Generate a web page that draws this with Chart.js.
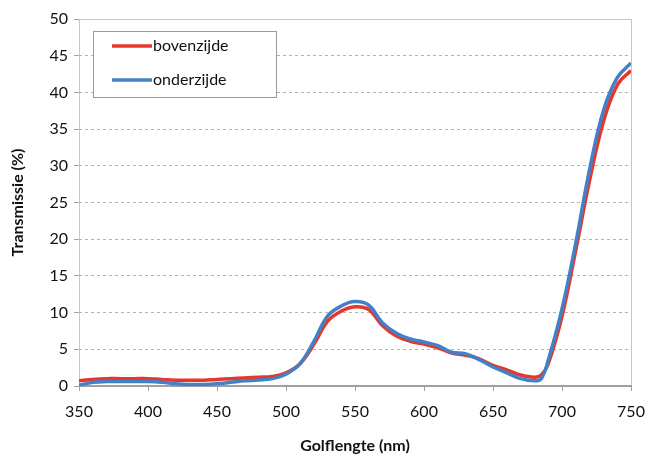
<!DOCTYPE html>
<html>
<head>
<meta charset="utf-8">
<script src="https://cdn.jsdelivr.net/npm/chart.js@4.4.0/dist/chart.umd.min.js"></script>
<style>
  html, body { margin: 0; padding: 0; background: #fff; }
  #wrap { width: 650px; height: 466px; }
</style>
</head>
<body>
<div id="wrap"><canvas id="transChart" width="650" height="466"></canvas></div>
<script>
// golflengte (nm) and transmissie (%)
const wavelengths = [350, 360, 370, 380, 390, 400, 410, 420, 430, 440, 450, 460, 470, 480, 490, 500, 510, 520, 530, 540, 550, 560, 570, 580, 590, 600, 610, 620, 630, 640, 650, 660, 670, 680, 685, 690, 700, 710, 720, 730, 740, 750];
const bovenzijde = [0.7, 0.9, 1.0, 1.0, 1.0, 1.0, 0.9, 0.8, 0.8, 0.8, 0.9, 1.0, 1.1, 1.2, 1.3, 1.8, 3.0, 5.6, 8.8, 10.2, 10.8, 10.4, 8.2, 6.8, 6.1, 5.7, 5.2, 4.5, 4.2, 3.7, 2.8, 2.2, 1.5, 1.2, 1.5, 3.0, 9.5, 18.5, 28.0, 36.0, 41.0, 43.0];
const onderzijde = [0.1, 0.5, 0.6, 0.6, 0.6, 0.6, 0.5, 0.3, 0.2, 0.2, 0.3, 0.5, 0.7, 0.8, 1.0, 1.6, 3.0, 6.0, 9.5, 10.9, 11.5, 11.0, 8.6, 7.2, 6.4, 6.0, 5.5, 4.6, 4.4, 3.6, 2.6, 1.8, 1.0, 0.7, 1.0, 3.5, 10.5, 19.5, 29.5, 37.5, 42.0, 44.0];
const xTicks = [350, 400, 450, 500, 550, 600, 650, 700, 750];
const yTicks = [0, 5, 10, 15, 20, 25, 30, 35, 40, 45, 50];

const fontFamily = 'Lato, "Open Sans", sans-serif';

// legend in a framed box inside the plot, Excel style
const boxLegend = {
    id: 'boxLegend',
    afterDraw(chart) {
        const ctx = chart.ctx;
        const a = chart.chartArea;
        const x0 = a.left + 14, y0 = a.top + 12, w = 183, h = 66;
        ctx.save();
        ctx.fillStyle = '#fff';
        ctx.strokeStyle = '#9a9a9a';
        ctx.lineWidth = 1;
        ctx.fillRect(x0, y0, w, h);
        ctx.strokeRect(x0 + 0.5, y0 + 0.5, w, h);
        ctx.font = '16px ' + fontFamily;
        ctx.textBaseline = 'middle';
        const rows = [chart.data.datasets[0], chart.data.datasets[1]];
        rows.forEach((ds, i) => {
            const yy = y0 + 15 + i * 34;
            ctx.strokeStyle = ds.borderColor;
            ctx.lineWidth = 3.5;
            ctx.beginPath();
            ctx.moveTo(x0 + 19, yy);
            ctx.lineTo(x0 + 59, yy);
            ctx.stroke();
            ctx.fillStyle = '#111';
            ctx.fillText(ds.label, x0 + 60, yy);
        });
        ctx.restore();
    }
};

// plot frame and bottom axis line
const frame = {
    id: 'frame',
    beforeDatasetsDraw(chart) {
        const ctx = chart.ctx;
        const a = chart.chartArea;
        ctx.save();
        ctx.strokeStyle = '#c8c8c8';
        ctx.lineWidth = 1;
        ctx.strokeRect(a.left + 0.5, a.top + 0.5, a.right - a.left, a.bottom - a.top);
        ctx.strokeStyle = '#a0a0a0';
        ctx.lineWidth = 2;
        ctx.beginPath();
        ctx.moveTo(a.left, a.bottom);
        ctx.lineTo(a.right + 1, a.bottom);
        ctx.stroke();
        ctx.restore();
    }
};

new Chart(document.getElementById('transChart'), {
    type: 'line',
    data: {
        datasets: [
            {
                label: 'bovenzijde',
                data: wavelengths.map((w, i) => ({ x: w, y: bovenzijde[i] })),
                borderColor: '#e5372c',
                borderWidth: 3.5,
                pointRadius: 0,
                tension: 0.4,
                fill: false,
                order: 1
            },
            {
                label: 'onderzijde',
                data: wavelengths.map((w, i) => ({ x: w, y: onderzijde[i] })),
                borderColor: '#4281c6',
                borderWidth: 3.5,
                pointRadius: 0,
                tension: 0.4,
                fill: false,
                order: 0
            }
        ]
    },
    options: {
        responsive: false,
        animation: false,
        layout: { padding: { top: 19, right: 19, left: 0, bottom: 0 } },
        plugins: {
            legend: { display: false },
            tooltip: { enabled: false }
        },
        scales: {
            x: {
                type: 'linear',
                min: 350,
                max: 750,
                afterBuildTicks: axis => { axis.ticks = xTicks.map(v => ({ value: v })); },
                afterFit: axis => { axis.height = 80; axis.paddingLeft = 0; axis.paddingRight = 0; },
                ticks: { color: '#111', font: { family: fontFamily, size: 16 }, padding: 11, maxRotation: 0 },
                grid: { drawOnChartArea: false, drawTicks: true, tickLength: 5, color: '#a0a0a0' },
                border: { display: false },
                title: { display: true, text: 'Golflengte (nm)', color: '#111', font: { family: fontFamily, size: 16, weight: 'bold' }, padding: { top: 4, bottom: 11 } }
            },
            y: {
                min: 0,
                max: 50,
                afterBuildTicks: axis => { axis.ticks = yTicks.map(v => ({ value: v })); },
                afterFit: axis => { axis.width = 79; axis.paddingTop = 0; axis.paddingBottom = 0; },
                ticks: { color: '#111', font: { family: fontFamily, size: 16 }, padding: 6 },
                grid: { color: ctx => ctx.tick && ctx.tick.value === 50 ? 'rgba(0,0,0,0)' : '#b4b4b4', tickColor: '#a0a0a0', tickLength: 5, tickBorderDash: [] },
                border: { display: false, dash: [3, 3] },
                title: { display: true, text: 'Transmissie (%)', color: '#111', font: { family: fontFamily, size: 16, weight: 'bold' }, padding: { top: 8, bottom: 2 } }
            }
        }
    },
    plugins: [frame, boxLegend]
});
</script>
</body>
</html>
